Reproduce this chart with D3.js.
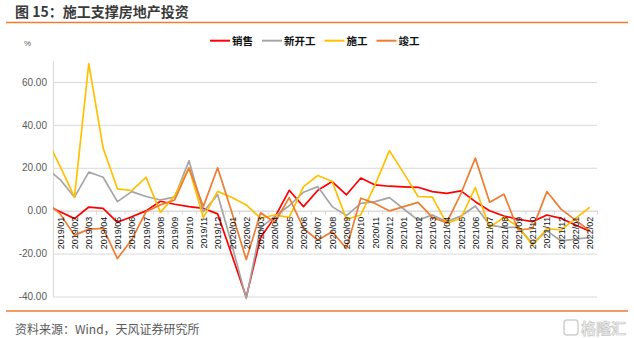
<!DOCTYPE html>
<html><head><meta charset="utf-8">
<script src="https://cdn.jsdelivr.net/npm/d3@7"></script>
<style>body{margin:0;background:#fff} svg{display:block;background:#fff}</style>
</head><body><svg id="c" width="634" height="338"></svg>
<script>
// first entry (2018/12) is only used for the clipped lead-in of each line
const dates = ["2018/12",
  "2019/01","2019/02","2019/03","2019/04","2019/05","2019/06","2019/07","2019/08","2019/09","2019/10","2019/11","2019/12",
  "2020/01","2020/02","2020/03","2020/04","2020/05","2020/06","2020/07","2020/08","2020/09","2020/10","2020/11","2020/12",
  "2021/01","2021/02","2021/03","2021/04","2021/05","2021/06","2021/07","2021/08","2021/09","2021/10","2021/11","2021/12",
  "2022/01","2022/02"];
const sales = [2.7,
  -0.5,-3.7,1.7,1.1,-5.4,-2.8,-0.1,4.4,3.0,1.9,1.1,-1.5,
  -20.8,-40.3,-12.5,-3.0,9.5,1.9,9.5,13.6,7.4,15.2,12.0,11.4,
  11.1,10.9,8.9,8.1,9.2,4.2,0.0,-2.5,-4.0,-5.1,-2.0,-3.6,
  -6.7,-9.6];
const newStarts = [20,
  14.5,6.3,18.0,15.6,4.2,8.9,6.6,5.0,6.3,23.3,-0.5,7.5,
  -16,-41,-8,-2.5,2.3,8.6,11.2,1.9,-2.3,3.4,4.2,6.1,
  0.8,-4.4,-2.0,-5.1,-2.5,2.2,-6.7,-7.8,-7.8,-15.3,-9.4,-14.1,
  -13.3,-12.5];
const construction = [34.2,
  20.6,6.3,68.5,29.2,10.2,9.4,15.5,-0.8,6.9,19.9,-3.2,9.0,
  6.1,2.7,-3.5,-2.0,-3.1,11.2,16.4,13.6,-4.0,-2.0,12.0,28.0,
  17.5,6.6,6.3,-5.9,-3.4,10.8,-7.8,-3.1,-7.5,-16.1,-8.3,-9.0,
  -3.6,1.6];
const completion = [4.3,
  -1.5,-11.5,-8.6,-8.3,-22.3,-13.5,-0.5,2.7,5.0,19.9,1.9,20.0,
  -1.0,-22.8,-1.0,-5.5,6.1,-8.3,-13.7,-9.8,-17.6,5.8,3.4,-0.1,
  1.9,3.9,-3.1,-5.6,8.0,24.5,3.9,7.7,-9.0,-8.3,8.9,0.6,
  -4.4,-9.4];
const seriesNames = ["销售","新开工","施工","竣工"];
const seriesColors = ["#FF0000","#A5A5A5","#FFC000","#ED7D31"];
const yTicks = [-40,-20,0,20,40,60];
const titleText = "图 15：施工支撑房地产投资";
const sourceText = "资料来源：Wind，天风证券研究所";

const svg = d3.select("#c");
const L = 53, R = 597, T = 60.5, B = 296.5;
const cjk = "'Noto Sans CJK SC','Noto Sans',sans-serif";
const latin = "'Liberation Sans',Arial,sans-serif";

const x = d3.scaleLinear().domain([0.5, dates.length - 0.5]).range([L, R]);
const y = d3.scaleLinear().domain([-40, 70]).range([B, T]);

// title + rules
svg.append("text").attr("x", 15).attr("y", 16.5).text(titleText)
  .style("font-family", cjk).style("font-size", "14px").style("font-weight", "bold").attr("fill", "#3a3a3a");
svg.append("line").attr("x1", 6).attr("x2", 628).attr("y1", 22.5).attr("y2", 22.5)
  .attr("stroke", "#ED7D31").attr("stroke-width", 1.3);
svg.append("line").attr("x1", 6).attr("x2", 628).attr("y1", 311).attr("y2", 311)
  .attr("stroke", "#ED7D31").attr("stroke-width", 1.3);

// gridlines
const grid = svg.append("g").attr("transform", `translate(${L},0)`)
  .call(d3.axisLeft(y).tickValues(yTicks).tickSize(-(R - L)).tickFormat(""));
grid.select(".domain").remove();
grid.selectAll("line").attr("stroke", "#d9d9d9").attr("stroke-width", 1);

// y axis
const ya = svg.append("g").attr("transform", `translate(${L},0)`)
  .call(d3.axisLeft(y).tickValues(yTicks).tickSize(0).tickSizeOuter(0).tickPadding(6).tickFormat(d => d.toFixed(2)));
ya.select(".domain").attr("stroke", "#d9d9d9");
ya.selectAll("text").style("font-family", latin).style("font-size", "10px").attr("fill", "#595959");

svg.append("text").attr("x", 24).attr("y", 46).text("%")
  .style("font-family", latin).style("font-size", "8px").attr("fill", "#595959");

// category axis at zero: boundary ticks
const boundaries = d3.range(0.5, dates.length, 1);
const xt = svg.append("g").attr("transform", `translate(0,${y(0)})`)
  .call(d3.axisBottom(x).tickValues(boundaries).tickSize(4).tickSizeOuter(0).tickFormat(""));
xt.select(".domain").attr("stroke", "#d9d9d9");
xt.selectAll("line").attr("stroke", "#d9d9d9");

// lines
svg.append("clipPath").attr("id", "clip").append("rect")
  .attr("x", L).attr("y", 0).attr("width", R - L).attr("height", 338);
const allSeries = [sales, newStarts, construction, completion];
const line = d3.line().x((d, i) => x(i)).y(d => y(d));
const lg = svg.append("g").attr("clip-path", "url(#clip)");
allSeries.forEach((s, k) => {
  lg.append("path").datum(s).attr("d", line).attr("fill", "none")
    .attr("stroke", seriesColors[k]).attr("stroke-width", 1.7).attr("stroke-linejoin", "round");
});

// category labels
const xl = svg.append("g").attr("transform", `translate(0,${y(0)})`)
  .call(d3.axisBottom(x).tickValues(d3.range(1, dates.length)).tickSize(0).tickFormat(i => dates[i]));
xl.select(".domain").remove();
xl.selectAll("text")
  .attr("transform", "rotate(-90)").attr("text-anchor", "end")
  .attr("x", -6).attr("y", 0).attr("dy", "0.34em")
  .style("font-family", latin).style("font-size", "9px").attr("fill", "#111");

// legend
const leg = svg.append("g");
let lx = 210;
seriesNames.forEach((n, k) => {
  leg.append("line").attr("x1", lx).attr("x2", lx + 20).attr("y1", 40.7).attr("y2", 40.7)
    .attr("stroke", seriesColors[k]).attr("stroke-width", 2);
  const t = leg.append("text").attr("x", lx + 22).attr("y", 44.5).text(n)
    .style("font-family", cjk).style("font-size", "10.5px").style("font-weight", "bold").attr("fill", "#111");
  lx += 22 + t.node().getComputedTextLength() + 9;
});

// source
svg.append("text").attr("x", 15).attr("y", 333.5).text(sourceText)
  .style("font-family", cjk).style("font-size", "12px").attr("fill", "#595959");

// watermark
svg.append("rect").attr("x", 564).attr("y", 320).attr("width", 14).attr("height", 15).attr("rx", 3)
  .attr("fill", "none").attr("stroke", "#cfcfcf").attr("stroke-width", 1.5);
svg.append("text").attr("x", 581).attr("y", 334).text("格隆汇")
  .style("font-family", cjk).style("font-size", "15px").style("font-weight", "bold")
  .attr("fill", "#f0f0f0").attr("stroke", "#c8c8c8").attr("stroke-width", 0.7);
</script></body></html>
